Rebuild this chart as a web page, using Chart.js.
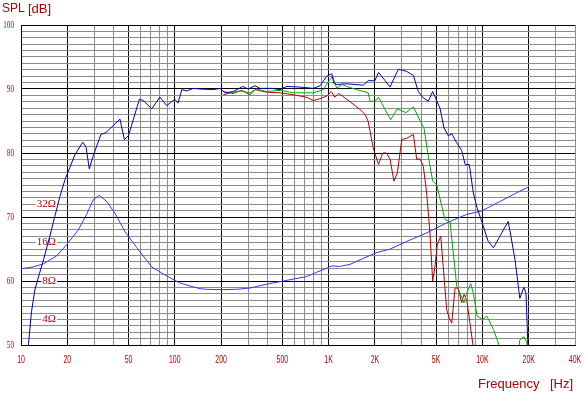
<!DOCTYPE html>
<html><head><meta charset="utf-8">
<script src="https://cdn.jsdelivr.net/npm/chart.js@4.4.0/dist/chart.umd.min.js"></script>
<style>html,body{margin:0;padding:0;background:#fff;overflow:hidden}canvas{display:block}</style>
</head><body>
<canvas id="c" width="585" height="395"></canvas>
<script>
// ---- axis ticks / labels ----
const xGridValues = [10,20,30,40,50,60,70,80,90,100,200,300,400,500,600,700,800,900,1000,2000,3000,4000,5000,6000,7000,8000,9000,10000,20000,30000,40000];
const xLabelValues = [10,20,50,100,200,500,1000,2000,5000,10000,20000,40000];
const xLabelTexts = ['10','20','50','100','200','500','1K','2K','5K','10K','20K','40K'];
const yLabelValues = [50,60,70,80,90,100];
const ohmLabels = [4,8,16,32];

// ---- on-axis SPL (dark blue) ----
const onAxisFreq = [11,11.2,11.7,12.3,13.2,14,15.4,16.6,17.9,19.3,22.4,25.2,26.5,27.8,29.5,33.1,35.7,39.8,44,47,50,58.8,62.4,70.8,80,88.6,100,105,111,120,132,146,178,197,212,240,276,300,332,358,427,483,534,652,795,880,972,1050,1080,1130,1250,1340,1680,1810,1950,2000,2110,2330,2510,2840,3220,3560,3830,4130,4450,4750,5300,5630,6000,6320,6810,7330,7730,8220,8730,9240,10000,10900,11800,13000,14700,15200,16300,17500,18600,19200,19700,20000];
const onAxisDb = [48,50.3,55.2,58.6,61.2,63.3,67.0,70.1,73.2,75.8,79.7,81.7,80.9,77.5,79.6,82.9,83.2,84.3,85.3,82.1,82.7,88.4,88.2,86.9,88.75,87.4,88.4,87.8,89.9,89.7,90.1,90.0,89.9,90.1,89.4,89.6,90.4,90.0,90.5,90.1,90.1,89.9,90.4,90.3,90.1,90.5,92.0,92.4,90.9,90.7,90.8,90.8,90.6,91.3,91.3,91.3,92.6,91.3,90.3,93.1,92.75,92.1,89.6,88.6,88.1,89.6,87.0,83.9,82.7,83.0,81.6,80.4,78.2,78.2,73.75,71.4,69.0,66.2,65.2,67.0,69.3,67.5,63.3,57.3,59.0,58.1,50.8,47];

// ---- 30 deg (green) ----
const deg30Freq = [207,230,265,308,340,396,483,589,795,924,1000,1060,1130,1220,1310,1520,1810,1860,2000,2110,2530,2800,3180,3560,3890,4170,4450,4750,5050,5440,5710,6150,6470,6810,7150,7590,7900,8390,8730,9240,10000,10700,11800,12700,13500,16800,17500,18600,19500,20000];
const deg30Db = [89.6,89.4,89.7,89.4,90.0,89.6,89.8,89.4,89.4,89.9,91.2,92.0,90.1,90.7,90.4,89.9,89.4,88.1,88.1,88.7,85.2,86.9,86.3,87.2,85.3,83.9,79.5,75.6,75.0,71.7,69.6,69.3,64.4,59.2,58.1,56.6,58.1,59.6,58.1,54.5,54.0,54.5,52.4,50.3,47,47,50.8,51.3,50.3,47];

// ---- 60 deg (red) ----
const deg60Freq = [207,230,240,272,308,332,396,483,589,721,795,880,972,1040,1100,1160,1230,1380,1600,1730,1810,1950,2110,2250,2380,2510,2660,2800,2990,3220,3560,3740,3930,4130,4340,4560,4750,4920,5090,5360,5560,5860,6090,6320,6640,6970,7330,7590,7900,8300,8650,9000];
const deg60Db = [89.1,89.4,89.3,89.8,89.1,89.9,89.5,89.4,89.1,88.7,88.2,88.5,88.9,89.6,88.7,89.3,88.9,88.0,86.8,86.0,84.9,80.8,78.2,80.0,80.0,79.0,75.6,76.9,82.1,82.3,82.9,79.0,79.1,77.9,73.75,67.5,60.0,62.3,65.7,67.0,62.3,55.5,54.2,53.4,58.9,58.9,56.6,57.9,57.1,53.4,50.3,47];

// ---- impedance (ohm) ----
const impFreq = [10,12,14,17.1,19.8,23.6,26.7,29.5,32.3,36.1,40.8,47.5,56.5,70.8,84.2,100,108,126,146,161,200,253,308,396,508,589,721,837,972,1050,1180,1380,1600,2040,2510,3220,4340,5860,7900,9800,13000,16600,20000];
const impOhm = [9.96,10.3,10.9,12.6,15.4,20.1,26.5,34.5,37.4,33.4,27.1,19.4,14.6,10.3,9.08,8.09,7.73,7.30,6.97,6.89,6.85,6.89,7.05,7.55,8.0,8.28,8.67,9.37,10.07,10.5,10.4,10.8,11.7,13.3,14.2,16.3,19.0,22.8,26.5,28.1,33.4,39.0,43.5];

const pts = (f, v) => f.map((x, i) => ({x, y: v[i]}));
const xMajor = v => [1,2,5].includes(Math.round(v / Math.pow(10, Math.floor(Math.log10(v) + 1e-9)))) ;
const RED = '#b00000';

function drawText(ctx, txt, x, y, font, color, align, sx) {
  ctx.save();
  ctx.font = font;
  ctx.fillStyle = color;
  ctx.textBaseline = 'middle';
  ctx.textAlign = 'left';
  const w = ctx.measureText(txt).width * sx;
  const x0 = align === 'center' ? x - w / 2 : (align === 'right' ? x - w : x);
  ctx.translate(x0, y);
  ctx.scale(sx, 1);
  ctx.fillText(txt, 0, 0);
  ctx.restore();
}

const overlay = {
  id: 'overlay',
  beforeDatasetsDraw(chart) {
    const ctx = chart.ctx, zs = chart.scales.z;
    ohmLabels.forEach(o => {
      const y = zs.getPixelForValue(o);
      const t = o + 'Ω';
      ctx.font = '11px "Liberation Serif"';
      const w = ctx.measureText(t).width;
      ctx.fillStyle = '#fff';
      ctx.fillRect(56 - w - 1, y - 4, w + 2, 8);
      drawText(ctx, t, 56, y, '11px "Liberation Serif"', RED, 'right', 1);
    });
  },
  afterDraw(chart) {
    const ctx = chart.ctx, xs = chart.scales.x, ys = chart.scales.y;
    yLabelValues.forEach(v => {
      drawText(ctx, String(v), 14, ys.getPixelForValue(v) + 0.5, '11px "Liberation Serif"', RED, 'right', 0.65);
    });
    xLabelValues.forEach((v, i) => {
      drawText(ctx, xLabelTexts[i], xs.getPixelForValue(v), 360, '11px "Liberation Sans"', RED, 'center', 0.63);
    });
    drawText(ctx, 'SPL', 2, 9, '12px "Liberation Sans"', RED, 'left', 1);
    drawText(ctx, '[dB]', 28, 9, '13px "Liberation Sans"', RED, 'left', 1);
    drawText(ctx, 'Frequency', 478, 384, '13px "Liberation Sans"', RED, 'left', 1);
    drawText(ctx, '[Hz]', 550, 384, '13px "Liberation Sans"', RED, 'left', 1);
  }
};

const lineDs = (label, data, color, order, axis) => ({
  label, data, borderColor: color, backgroundColor: color, borderWidth: 1,
  pointRadius: 0, tension: 0, fill: false, order, yAxisID: axis || 'y'
});

new Chart(document.getElementById('c'), {
  type: 'line',
  data: {
    datasets: [
      lineDs('0°', pts(onAxisFreq, onAxisDb), '#0000b4', 0),
      lineDs('30°', pts(deg30Freq, deg30Db), '#00aa00', 1),
      lineDs('60°', pts(deg60Freq, deg60Db), '#b40000', 2),
      lineDs('Impedance', pts(impFreq, impOhm), '#3636ff', 3, 'z')
    ]
  },
  options: {
    responsive: false, animation: false, devicePixelRatio: 1,
    layout: { padding: { left: 21, top: 25, right: 10, bottom: 50 } },
    plugins: { legend: { display: false }, tooltip: { enabled: false } },
    scales: {
      x: {
        type: 'logarithmic', min: 10, max: 40000, bounds: 'data',
        afterBuildTicks: s => { s.ticks = xGridValues.map(v => ({value: v})); },
        ticks: { display: false },
        grid: { drawTicks: false, tickLength: 0, lineWidth: 1,
          color: c => (c.tick && xMajor(c.tick.value)) ? '#000' : '#8c8c8c' },
        border: { display: true, color: '#000', width: 1 }
      },
      y: {
        type: 'linear', min: 50, max: 100, bounds: 'data',
        afterBuildTicks: s => { const t = []; for (let v = 50; v <= 100; v++) t.push({value: v}); s.ticks = t; },
        ticks: { display: false },
        grid: { drawTicks: false, tickLength: 0, lineWidth: 1,
          color: c => (c.tick && c.tick.value % 10 === 0) ? '#000' : '#8c8c8c' },
        border: { display: true, color: '#000', width: 1 }
      },
      z: {
        type: 'logarithmic', position: 'right', display: false, bounds: 'data',
        min: 8 * Math.pow(10, -0.5), max: 800
      }
    }
  },
  plugins: [overlay]
});
</script>
</body></html>
